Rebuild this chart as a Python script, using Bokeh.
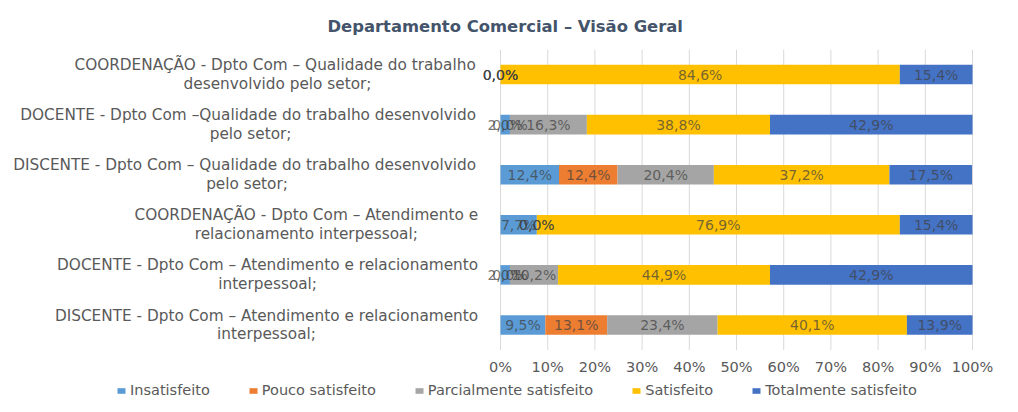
import numpy as np
from bokeh.plotting import figure
from bokeh.models import Range1d, Legend, LegendItem, ColumnDataSource
from bokeh.core.properties import value
from bokeh.embed import file_html
from bokeh.resources import INLINE

# ---------------- data ----------------
line1 = [
    "DISCENTE - Dpto Com \u2013 Atendimento e relacionamento",
    "DOCENTE - Dpto Com \u2013 Atendimento e relacionamento",
    "COORDENAÇÃO - Dpto Com \u2013 Atendimento e",
    "DISCENTE  - Dpto Com \u2013 Qualidade do trabalho desenvolvido",
    "DOCENTE  - Dpto Com \u2013Qualidade do trabalho desenvolvido",
    "COORDENAÇÃO  - Dpto Com \u2013 Qualidade do trabalho",
]
line2 = [
    "interpessoal;",
    "interpessoal;",
    "relacionamento interpessoal;",
    "pelo setor;",
    "pelo setor;",
    "desenvolvido pelo setor;",
]
series = ["Insatisfeito", "Pouco satisfeito", "Parcialmente satisfeito", "Satisfeito", "Totalmente satisfeito"]
insatisfeito = [9.5, 2.0, 7.7, 12.4, 2.0, 0.0]
pouco = [13.1, 0.0, 0.0, 12.4, 0.0, 0.0]
parcial = [23.4, 10.2, 0.0, 20.4, 16.3, 0.0]
satisfeito = [40.1, 44.9, 76.9, 37.2, 38.8, 84.6]
totalmente = [13.9, 42.9, 15.4, 17.5, 42.9, 15.4]
ticks = [0, 10, 20, 30, 40, 50, 60, 70, 80, 90, 100]
tick_labels = [f"{t}%" for t in ticks]
colors = ["#5B9BD5", "#ED7D31", "#A5A5A5", "#FFC000", "#4472C4"]

# ---------------- layout helpers ----------------
FONT = "DejaVu Sans"
CAT_SIZE = 15.3
# approximate DejaVu Sans advance widths (units of 1/2048 em)
W = {' ': 651, '-': 739, '\u2013': 1024, ';': 690, ',': 651, 'A': 1401, 'C': 1430, 'D': 1577,
     'E': 1294, 'I': 604, 'N': 1532, 'O': 1612, 'R': 1423, 'S': 1300, 'T': 1251, 'Ç': 1430,
     'Ã': 1401, 'Q': 1612, 'a': 1255, 'b': 1300, 'c': 1126, 'd': 1300, 'e': 1260, 'f': 721,
     'g': 1300, 'h': 1298, 'i': 569, 'l': 569, 'm': 1995, 'n': 1298, 'o': 1253, 'p': 1300,
     'r': 842, 's': 1067, 't': 803, 'u': 1298, 'v': 1212}

def text_width(s, size):
    s = " ".join(s.split())  # svg collapses repeated spaces
    return sum(W.get(ch, 1200) for ch in s) / 2048 * size

n = len(line1)
ypos = list(range(n))
full_labels = [a + "\n" + b for a, b in zip(line1, line2)]
cat_offsets = [-(22 + max(text_width(a, CAT_SIZE), text_width(b, CAT_SIZE)) / 2) for a, b in zip(line1, line2)]

data = dict(y=ypos)
for name, vals in zip(series, [insatisfeito, pouco, parcial, satisfeito, totalmente]):
    data[name] = vals
source = ColumnDataSource(data)

p = figure(width=1016, height=410, y_range=Range1d(-1.708, n - 0.5), x_range=Range1d(-105.93, 109.32),
           output_backend="svg", toolbar_location=None, min_border_left=0, min_border_right=0,
           min_border_top=46, min_border_bottom=0)

p.title.text = "Departamento Comercial \u2013 Visão Geral"
p.title.align = "left"
p.title.offset = 327
p.title.text_font = FONT
p.title.text_font_size = "16.4px"
p.title.text_font_style = "bold"
p.title.text_color = "#44546A"
p.title.standoff = 28

p.xaxis.visible = False
p.yaxis.visible = False
p.xgrid.grid_line_color = None
p.ygrid.grid_line_color = None
p.outline_line_color = None

# vertical gridlines over the plot area
p.segment(x0=ticks, x1=ticks, y0=-0.5, y1=n - 0.5, line_color="#D9D9D9", line_width=1)

renderers = p.hbar_stack(series, y="y", height=0.39, color=colors, source=source, line_width=0)

# data labels
mat = np.array([insatisfeito, pouco, parcial, satisfeito, totalmente])
cum = np.cumsum(mat, axis=0)
centers = cum - mat / 2
lx, ly, lt = [], [], []
for si in range(mat.shape[0]):
    for ci in range(mat.shape[1]):
        lx.append(float(centers[si, ci]))
        ly.append(ypos[ci])
        lt.append(f"{mat[si, ci]:.1f}".replace(".", ",") + "%")
p.text(x=lx, y=ly, text=lt, text_align="center", text_baseline="middle",
       text_font=value(FONT), text_font_size="14px", text_color="#404040", text_alpha=0.72)

# category labels
cat_src = ColumnDataSource(dict(x=[0] * n, y=ypos, text=full_labels, xo=cat_offsets))
p.text(x="x", y="y", text="text", x_offset="xo", source=cat_src, text_align="center",
       text_baseline="middle", text_font=value(FONT), text_font_size=f"{CAT_SIZE}px",
       text_color="#595959", text_line_height=1.05)

# x tick labels
p.text(x=ticks, y=[-0.5] * len(ticks), text=tick_labels, y_offset=17, text_align="center",
       text_baseline="middle", text_font=value(FONT), text_font_size="14.5px", text_color="#595959")

legend = Legend(items=[LegendItem(label=s, renderers=[r]) for s, r in zip(series, renderers)],
                orientation="horizontal", location=(116, 12), glyph_width=10, glyph_height=7,
                label_standoff=4, spacing=38, border_line_color=None, background_fill_alpha=0,
                label_text_font=FONT, label_text_font_size="14.5px", label_text_color="#595959",
                margin=0, padding=4)
p.add_layout(legend)

open("out.html", "w").write(file_html(p, INLINE))
